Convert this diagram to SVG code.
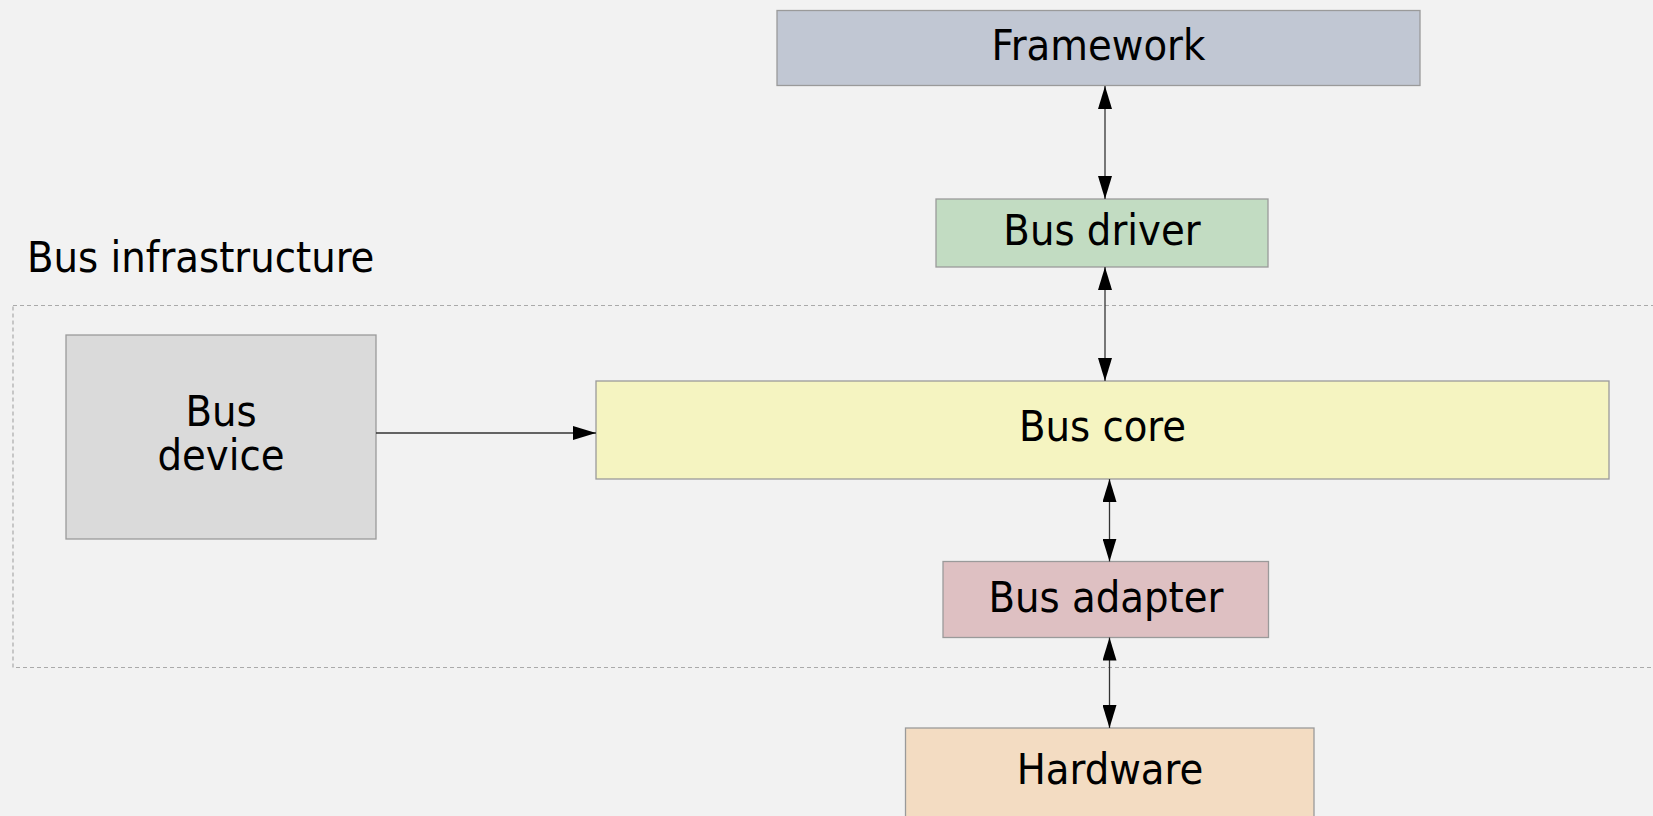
<svg xmlns="http://www.w3.org/2000/svg" width="1653" height="816" viewBox="0 0 1653 816">
  <style>
    .box { stroke: #9a9a9a; stroke-width: 1.3; }
    .lbl { font-family: "DejaVu Sans Condensed", "Liberation Sans", sans-serif; font-size: 43px; fill: #000; text-anchor: middle; }
    .title { text-anchor: start; }
    .link { stroke: #333; stroke-width: 1.3; fill: none; }
  </style>
  <defs>
    <marker id="head" markerUnits="userSpaceOnUse" markerWidth="24" markerHeight="14" refX="23" refY="7" orient="auto-start-reverse">
      <path d="M0,0 L23,7 L0,14 Z" fill="#000"/>
    </marker>
  </defs>

  <rect x="0" y="0" width="1653" height="816" fill="#f2f2f2"/>

  <!-- container: bus infrastructure -->
  <g id="bus-infrastructure">
    <text class="lbl title" x="27" y="272">Bus infrastructure</text>
    <rect x="13" y="305.5" width="1660" height="362" fill="none" stroke="#aaa" stroke-width="1.2" stroke-dasharray="4 3"/>
  </g>

  <g id="framework">
    <rect class="box" x="777" y="10.5" width="643" height="75" fill="#c1c7d3"/>
    <text class="lbl" x="1098.5" y="60">Framework</text>
  </g>

  <g id="bus-driver">
    <rect class="box" x="936" y="199" width="332" height="68" fill="#c2dcc2"/>
    <text class="lbl" x="1102" y="245">Bus driver</text>
  </g>

  <g id="bus-device">
    <rect class="box" x="66" y="335" width="310" height="204" fill="#dadada"/>
    <text class="lbl"><tspan x="221" y="426">Bus</tspan><tspan x="221" y="470">device</tspan></text>
  </g>

  <g id="bus-core">
    <rect class="box" x="596" y="381" width="1013" height="98" fill="#f5f4c1"/>
    <text class="lbl" x="1102.5" y="441">Bus core</text>
  </g>

  <g id="bus-adapter">
    <rect class="box" x="943" y="561.5" width="325.5" height="76" fill="#dec0c2"/>
    <text class="lbl" x="1106" y="612">Bus adapter</text>
  </g>

  <g id="hardware">
    <rect class="box" x="905.5" y="728" width="408.5" height="95" fill="#f3dcc2"/>
    <text class="lbl" x="1110" y="784">Hardware</text>
  </g>

  <g id="connectors">
    <line class="link" x1="1105" y1="86" x2="1105" y2="199" marker-start="url(#head)" marker-end="url(#head)"/>
    <line class="link" x1="1105" y1="267" x2="1105" y2="381" marker-start="url(#head)" marker-end="url(#head)"/>
    <line class="link" x1="1109.5" y1="479" x2="1109.5" y2="561.5" marker-start="url(#head)" marker-end="url(#head)"/>
    <line class="link" x1="1109.5" y1="637.5" x2="1109.5" y2="728" marker-start="url(#head)" marker-end="url(#head)"/>
    <line class="link" x1="376" y1="433" x2="596" y2="433" marker-end="url(#head)"/>
  </g>
</svg>
